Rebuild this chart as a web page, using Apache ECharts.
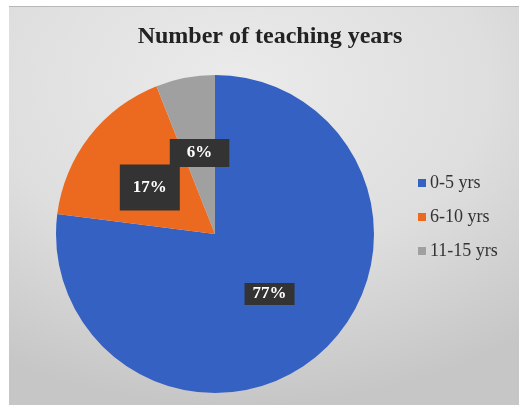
<!DOCTYPE html>
<html lang="en">
<head>
  <meta charset="UTF-8">
  <title>Number of teaching years</title>
  <script src="https://cdn.jsdelivr.net/npm/echarts@6.0.0/dist/echarts.min.js"></script>
</head>
<body style="margin: 0; background: #fff;">
  <div id="container" style="position: absolute; left: 9px; top: 6px; width: 510px; height: 399px;
    border-top: 1px solid #b8b8b8;
    background: radial-gradient(ellipse 90% 80% at 45% 20%, #ebebeb 0%, #dedede 55%, #c6c6c6 100%);"></div>

  <script>
    // chart data
    var categories = ['0-5 yrs', '6-10 yrs', '11-15 yrs'];
    var values = [77, 17, 6];
    var colors = ['#3561c2', '#ec6a1f', '#a0a0a0'];
    // label boxes in the picture are not all the same size
    var labelPads = [[3, 8, 2, 8], [15, 13, 14, 13], [6, 17, 5, 17]];
    var labelOffsets = [[0, -2], [0, 4], [0, 0]];

    var chart = echarts.init(document.getElementById('container'));

    var data = categories.map(function (name, i) {
      return {
        name: name,
        value: values[i],
        itemStyle: { color: colors[i] },
        label: { padding: labelPads[i], offset: labelOffsets[i] }
      };
    });

    var option = {
      backgroundColor: 'transparent',
      animation: false,
      title: {
        text: 'Number of teaching years',
        left: 256,
        top: 13,
        textAlign: 'center',
        textStyle: {
          fontFamily: 'Liberation Serif',
          fontWeight: 'bold',
          fontSize: 24,
          color: '#222'
        }
      },
      legend: {
        orient: 'vertical',
        left: 409,
        top: 167,
        padding: 0,
        icon: 'rect',
        itemWidth: 8,
        itemHeight: 8,
        itemGap: 16,
        textStyle: {
          fontFamily: 'Liberation Serif',
          fontSize: 18,
          color: '#333',
          padding: [0, 0, 0, -1]
        },
        data: categories
      },
      series: [
        {
          type: 'pie',
          center: [206, 227],
          radius: [0, 159],
          startAngle: 90,
          clockwise: true,
          silent: true,
          avoidLabelOverlap: false,
          labelLayout: { hideOverlap: false },
          data: data,
          label: {
            show: true,
            position: 'inside',
            formatter: '{c}%',
            fontFamily: 'Liberation Serif',
            fontWeight: 'bold',
            fontSize: 17,
            color: '#fff',
            backgroundColor: '#333'
          },
          labelLine: { show: false }
        }
      ]
    };
    chart.setOption(option);
  </script>
</body>
</html>
